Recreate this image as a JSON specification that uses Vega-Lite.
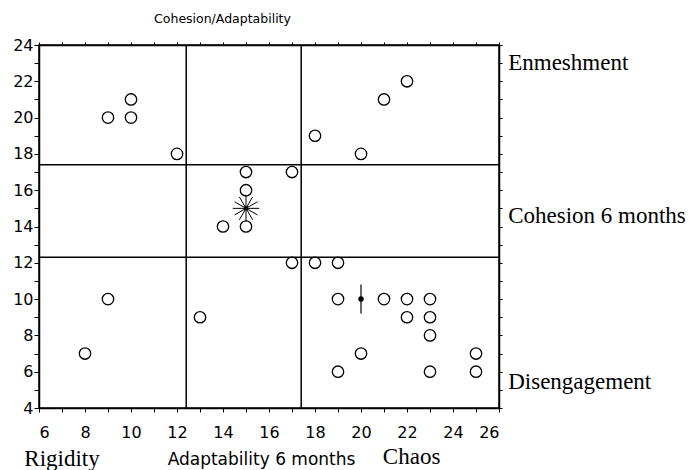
{
  "$schema": "https://vega.github.io/schema/vega-lite/v6.json",
  "width": 460,
  "height": 363,
  "autosize": {"type": "none"},
  "padding": {"left": 39, "top": 45, "right": 198, "bottom": 62},
  "background": "white",
  "config": {
    "view": {"stroke": "black", "strokeWidth": 1.5},
    "axis": {
      "domainColor": "black", "domainWidth": 1.5, "tickColor": "black", "tickWidth": 1,
      "labelColor": "black", "titleColor": "black", "labelFont": "DejaVu Sans", "titleFont": "DejaVu Sans",
      "labelFontSize": 14, "grid": false, "labelOverlap": false, "titleFontWeight": "normal"
    }
  },
  "datasets": {
    "pts": [
      {"x":9,"y":20},{"x":10,"y":21},{"x":10,"y":20},{"x":12,"y":18},
      {"x":18,"y":19},{"x":20,"y":18},{"x":21,"y":21},{"x":22,"y":22},
      {"x":15,"y":17},{"x":15,"y":16},{"x":14,"y":14},{"x":15,"y":14},{"x":17,"y":17},
      {"x":17,"y":12},{"x":18,"y":12},{"x":19,"y":12},
      {"x":9,"y":10},{"x":8,"y":7},{"x":13,"y":9},
      {"x":19,"y":10},{"x":21,"y":10},{"x":22,"y":10},{"x":23,"y":10},{"x":22,"y":9},{"x":23,"y":9},{"x":23,"y":8},
      {"x":20,"y":7},{"x":19,"y":6},{"x":23,"y":6},{"x":25,"y":7},{"x":25,"y":6}
    ],
    "vlines": [{"x": 12.4}, {"x": 17.4}],
    "hlines": [{"y": 17.4}, {"y": 12.3}],
    "star": [{"x": 15, "y": 15}],
    "bar": [{"x": 20, "y": 10, "lo": 9.2, "hi": 10.8}],
    "rightLabels": [
      {"x": 26.4, "y": 22.6, "t": "Enmeshment"},
      {"x": 26.4, "y": 14.2, "t": "Cohesion 6 months"},
      {"x": 26.4, "y": 5.05, "t": "Disengagement"}
    ],
    "bottomLabels": [
      {"x": 7.0, "y": 0.78, "t": "Rigidity"},
      {"x": 22.2, "y": 0.92, "t": "Chaos"}
    ]
  },
  "resolve": {"axis": {"x": "independent", "y": "independent"}},
  "layer": [
    {
      "data": {"name": "pts"},
      "mark": {"type": "point", "shape": "circle", "filled": false, "stroke": "black", "strokeWidth": 1.3, "size": 130, "opacity": 1},
      "encoding": {
        "x": {"field": "x", "type": "quantitative", "scale": {"domain": [6, 26], "nice": false, "zero": false},
              "axis": {"orient": "bottom", "values": [6,7,8,9,10,11,12,13,14,15,16,17,18,19,20,21,22,23,24,25,26],
                       "labelExpr": "datum.value % 2 == 0 ? datum.label : ''", "tickSize": 4, "labelPadding": 12,
                       "labelFontSize": 16, "title": "Adaptability 6 months", "titleFontSize": 17, "titlePadding": 11,
                       "titleX": 222, "titleAlign": "center"}},
        "y": {"field": "y", "type": "quantitative", "scale": {"domain": [4, 24], "nice": false, "zero": false},
              "axis": {"orient": "left", "values": [4,5,6,7,8,9,10,11,12,13,14,15,16,17,18,19,20,21,22,23,24],
                       "labelExpr": "datum.value % 2 == 0 ? datum.label : ''", "tickSize": 5, "labelPadding": 1,
                       "labelFontSize": 16, "title": null}}
      }
    },
    {
      "data": {"name": "vlines"},
      "mark": {"type": "rule", "color": "black", "strokeWidth": 1.5},
      "encoding": {
        "x": {"field": "x", "type": "quantitative",
              "axis": {"orient": "top", "values": [6,7,8,9,10,11,12,13,14,15,16,17,18,19,20,21,22,23,24,25,26],
                       "labels": false, "tickSize": 3, "title": "Cohesion/Adaptability", "titleFontSize": 12.5, "titlePadding": 16,
                       "titleX": 183, "titleAlign": "center"}}
      }
    },
    {
      "data": {"name": "hlines"},
      "mark": {"type": "rule", "color": "black", "strokeWidth": 1.5},
      "encoding": {
        "y": {"field": "y", "type": "quantitative",
              "axis": {"orient": "right", "values": [4,5,6,7,8,9,10,11,12,13,14,15,16,17,18,19,20,21,22,23,24],
                       "labels": false, "tickSize": 3, "title": null}}
      }
    },
    {
      "data": {"name": "star"},
      "mark": {"type": "point", "shape": "M-1,0L1,0M0,-1L0,1M-0.866,-0.5L0.866,0.5M-0.866,0.5L0.866,-0.5M-0.5,-0.866L0.5,0.866M-0.5,0.866L0.5,-0.866",
               "filled": false, "stroke": "black", "strokeWidth": 1, "size": 700, "opacity": 1},
      "encoding": {
        "x": {"field": "x", "type": "quantitative", "axis": null},
        "y": {"field": "y", "type": "quantitative", "axis": null}
      }
    },
    {
      "data": {"name": "star"},
      "mark": {"type": "point", "shape": "circle", "filled": true, "color": "black", "size": 20, "opacity": 1},
      "encoding": {
        "x": {"field": "x", "type": "quantitative", "axis": null},
        "y": {"field": "y", "type": "quantitative", "axis": null}
      }
    },
    {
      "data": {"name": "bar"},
      "mark": {"type": "rule", "color": "black", "strokeWidth": 1.2},
      "encoding": {
        "x": {"field": "x", "type": "quantitative", "axis": null},
        "y": {"field": "lo", "type": "quantitative", "axis": null},
        "y2": {"field": "hi"}
      }
    },
    {
      "data": {"name": "bar"},
      "mark": {"type": "point", "shape": "circle", "filled": true, "color": "black", "size": 30, "opacity": 1},
      "encoding": {
        "x": {"field": "x", "type": "quantitative", "axis": null},
        "y": {"field": "y", "type": "quantitative", "axis": null}
      }
    },
    {
      "data": {"name": "rightLabels"},
      "mark": {"type": "text", "font": "Liberation Serif", "fontSize": 23, "color": "black", "baseline": "alphabetic", "align": "left"},
      "encoding": {
        "x": {"field": "x", "type": "quantitative", "axis": null},
        "y": {"field": "y", "type": "quantitative", "axis": null},
        "text": {"field": "t"}
      }
    },
    {
      "data": {"name": "bottomLabels"},
      "mark": {"type": "text", "font": "Liberation Serif", "fontSize": 23, "color": "black", "baseline": "alphabetic", "align": "center"},
      "encoding": {
        "x": {"field": "x", "type": "quantitative", "axis": null},
        "y": {"field": "y", "type": "quantitative", "axis": null},
        "text": {"field": "t"}
      }
    }
  ]
}
